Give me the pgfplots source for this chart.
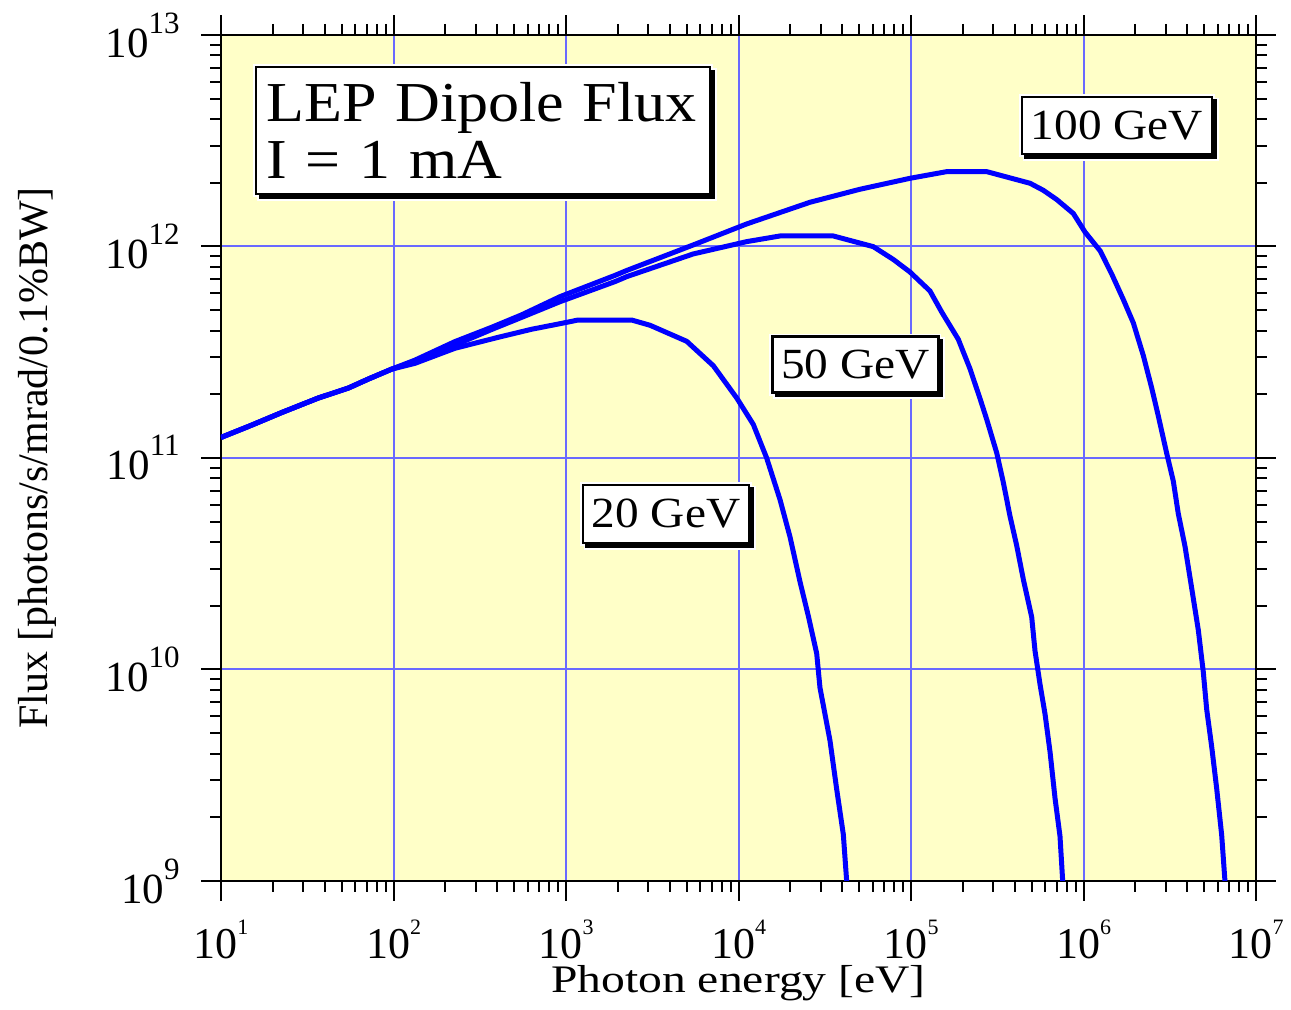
\documentclass[border=0pt]{standalone}
\usepackage{fontspec}
\setmainfont{Liberation Serif}[FakeStretch=1.1]
\newfontfamily\plainfont{Liberation Serif}
\newfontfamily\widefont{Liberation Serif}[FakeStretch=1.22]
\usepackage{pgfplots}
\pgfplotsset{compat=1.18}
\usetikzlibrary{shadows}

\definecolor{bgyellow}{RGB}{255,255,200}
\definecolor{gridblue}{RGB}{105,105,255}
\definecolor{curveblue}{RGB}{0,0,255}

% 10^n tick labels set in the text font
\newcommand{\xp}[1]{10\raisebox{11.7pt}{\fontsize{11pt}{12pt}\selectfont #1}}
\newcommand{\yp}[1]{10\raisebox{12pt}{\fontsize{15.5pt}{16pt}\selectfont #1}}

\pgfplotstableread{
E F
10 1.25e11
15.07 1.43e11
22.5 1.64e11
36.6 1.92e11
54.7 2.14e11
71.4 2.36e11
97.6 2.63e11
133 2.80e11
227 3.30e11
405 3.72e11
632 4.06e11
986 4.36e11
1175 4.49e11
2400 4.49e11
3070 4.24e11
5012 3.56e11
7145 2.73e11
9772 1.92e11
12190 1.44e11
14560 1.00e11
17400 6.36e10
19900 4.23e10
22750 2.59e10
25400 1.79e10
28400 1.19e10
29670 8.2e9
33900 4.62e9
37080 2.72e9
40520 1.66e9
42370 1.0e9
}\fluxtwenty

\pgfplotstableread{
E F
10 1.25e11
15.07 1.43e11
22.5 1.64e11
36.6 1.92e11
54.7 2.14e11
71.4 2.36e11
97.6 2.63e11
133 2.86e11
227 3.42e11
371 4.05e11
553 4.62e11
923 5.48e11
1923 6.82e11
2249 7.2e11
5470 9.22e11
11160 1.054e12
17400 1.121e12
35440 1.121e12
60440 9.98e11
78970 8.68e11
98670 7.57e11
128800 6.16e11
150600 4.90e11
188000 3.64e11
219800 2.64e11
251200 1.91e11
274900 1.52e11
314100 1.056e11
343000 7.66e10
374900 5.31e10
410100 3.85e10
447700 2.67e10
500800 1.77e10
523500 1.225e10
559800 8.50e9
598400 6.16e9
639700 4.08e9
683900 2.46e9
730700 1.63e9
757500 1.0e9
}\fluxfifty

\pgfplotstableread{
E F
10 1.25e11
15.07 1.43e11
22.5 1.64e11
36.6 1.92e11
54.7 2.14e11
71.4 2.36e11
97.6 2.63e11
133 2.90e11
227 3.55e11
371 4.15e11
553 4.75e11
923 5.79e11
1923 7.3e11
2249 7.7e11
5470 1.017e12
11160 1.278e12
25970 1.618e12
50580 1.864e12
98670 2.10e12
161000 2.258e12
274900 2.258e12
489800 1.99e12
584500 1.844e12
699800 1.666e12
873000 1.432e12
1021000 1.169e12
1248000 9.54e11
1457000 7.41e11
1702000 5.61e11
1945000 4.35e11
2222000 3.05e11
2486000 2.14e11
2714000 1.58e11
3036000 1.052e11
3316000 7.77e10
3545000 5.45e10
3877000 3.82e10
4239000 2.42e10
4630000 1.535e10
4949000 9.72e9
5176000 6.49e9
5534000 4.32e9
5916000 2.74e9
6324000 1.65e9
6607000 1.0e9
}\fluxhundred

\tikzset{
  labelbox/.style={fill=white, draw=black, line width=1.2pt,
    general shadow={draw=white, fill=white, line width=3pt},
    general shadow={draw=white, fill=white, line width=3pt, shadow xshift=1.8pt, shadow yshift=-1.8pt},
    general shadow={draw=black, fill=black, line width=1.2pt, shadow xshift=1.8pt, shadow yshift=-1.8pt}},
}

\begin{document}
\begin{tikzpicture}
\begin{axis}[
    xmode=log, ymode=log,
    xmin=10, xmax=1e7,
    ymin=1e9, ymax=1e13,
    width=517.5pt, height=423pt,
    scale only axis,
    axis background/.style={fill=bgyellow},
    axis line style={line width=1.2pt},
    tick align=outside,
    major tick length=10pt,
    minor tick length=5.5pt,
    every tick/.append style={black, line width=1pt},
    grid=major,
    major grid style={gridblue, line width=1pt},
    xtick={1e1,1e2,1e3,1e4,1e5,1e6,1e7},
    xticklabels={\xp{1},\xp{2},\xp{3},\xp{4},\xp{5},\xp{6},\xp{7}},
    ytick={1e9,1e10,1e11,1e12,1e13},
    yticklabels={\yp{9},\yp{10},\yp{11},\yp{12},\yp{13}},
    xticklabel style={anchor=north, inner sep=0pt, yshift=-9.5pt,
      font=\plainfont\fontsize{22pt}{24pt}\selectfont},
    yticklabel style={anchor=east, inner sep=0pt, xshift=-10.5pt,
      font=\plainfont\fontsize{21.5pt}{24pt}\selectfont},
    xlabel={Photon energy [eV]},
    xlabel style={at={(axis description cs:0.5,0)}, anchor=base, yshift=-56pt,
      inner sep=0pt, font=\widefont\fontsize{19.5pt}{20pt}\selectfont},
    ylabel={Flux [photons/s/mrad/0.1\%BW]},
    ylabel style={at={(axis description cs:-0.1773,0.5)}, anchor=center,
      font=\plainfont\fontsize{21pt}{24pt}\selectfont},
]
\addplot[curveblue, line width=2.5pt] table[x=E, y=F] {\fluxtwenty};
\addplot[curveblue, line width=2.5pt] table[x=E, y=F] {\fluxfifty};
\addplot[curveblue, line width=2.5pt] table[x=E, y=F] {\fluxhundred};

\node[labelbox, anchor=north west, align=left, inner xsep=5pt, text width=217pt,
      minimum height=63.5pt, font=\fontsize{28.2pt}{28.7pt}\selectfont]
  at (rel axis cs:0.0329,0.9634) {LEP Dipole Flux\\I = 1 mA};
\node[labelbox, minimum width=95pt, minimum height=28.5pt, inner sep=0pt,
      font=\fontsize{21.5pt}{24pt}\selectfont] at (rel axis cs:0.8657,0.893) {100 GeV};
\node[labelbox, minimum width=83pt, minimum height=28pt, inner sep=0pt,
      font=\fontsize{21.5pt}{24pt}\selectfont] at (rel axis cs:0.6129,0.6103) {50 GeV};
\node[labelbox, minimum width=83pt, minimum height=29pt, inner sep=0pt,
      font=\fontsize{21.5pt}{24pt}\selectfont] at (rel axis cs:0.43,0.4338) {20 GeV};
\coordinate (sw) at (rel axis cs:0,0);
\end{axis}
\pgfresetboundingbox
\path[use as bounding box] (sw) ++(-110.5pt,-64.5pt) rectangle ++(645.5pt,505pt);
\end{tikzpicture}
\end{document}
